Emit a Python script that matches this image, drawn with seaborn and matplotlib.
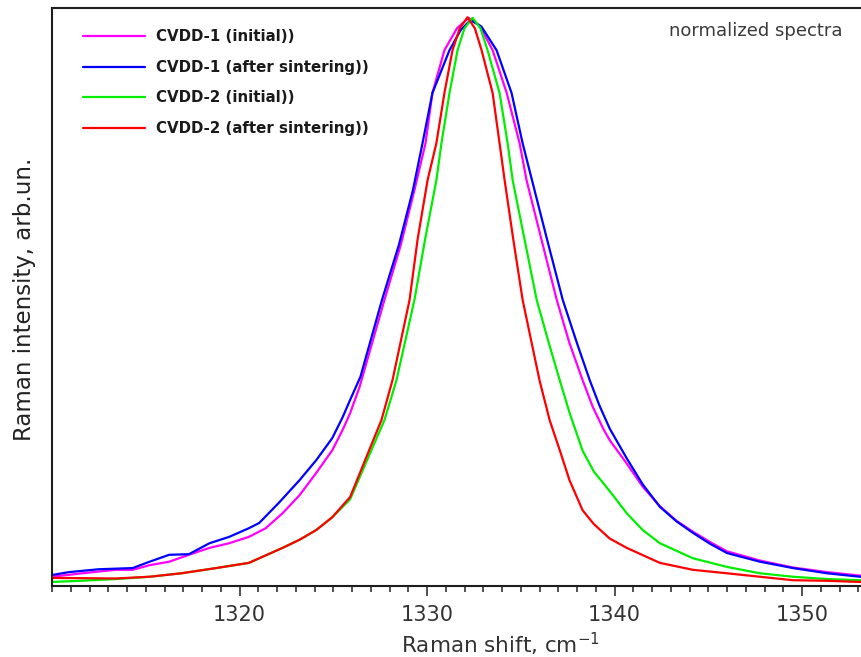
import matplotlib
matplotlib.use("Agg")
import matplotlib.pyplot as plt
from matplotlib.ticker import MultipleLocator
import numpy as np
import pandas as pd
import seaborn as sns

# ---- data ----
labels = ["CVDD-1 (initial))", "CVDD-1 (after sintering))",
          "CVDD-2 (initial))", "CVDD-2 (after sintering))"]
colors = ["#ff00ff", "#0000ff", "#00ee00", "#ff0000"]

x_cvdd1_init = [1310.0, 1311.6, 1313.4, 1314.3, 1315.2, 1316.25, 1317.3, 1318.4, 1319.45,
                1320.5, 1321.4, 1322.3, 1323.2, 1324.1, 1324.95, 1325.5, 1325.9, 1326.4,
                1327.73, 1328.6, 1329.33, 1329.92, 1330.29, 1330.93, 1331.6, 1332.22,
                1332.8, 1333.5, 1334.25, 1334.94, 1335.31, 1336.1, 1336.92, 1337.6,
                1338.3, 1338.84, 1339.4, 1339.75, 1340.65, 1341.5, 1342.42, 1343.3, 1344.18,
                1345.1, 1346.0, 1347.76, 1349.52, 1351.34, 1353.1, 1354.0]
y_cvdd1_init = [0.016, 0.022, 0.028, 0.028, 0.036, 0.042, 0.054, 0.066, 0.074,
                0.085, 0.100, 0.126, 0.157, 0.196, 0.235, 0.270, 0.299, 0.344,
                0.495, 0.590, 0.685, 0.766, 0.853, 0.927, 0.965, 0.983,
                0.970, 0.927, 0.853, 0.766, 0.702, 0.600, 0.495, 0.420,
                0.356, 0.310, 0.272, 0.252, 0.212, 0.172, 0.138, 0.113, 0.094,
                0.076, 0.060, 0.044, 0.032, 0.024, 0.018, 0.016]

x_cvdd1_sint = [1310.0, 1310.9, 1312.5, 1314.3, 1315.2, 1316.25, 1317.3, 1318.4, 1319.45,
                1320.5, 1321.05, 1322.1, 1323.2, 1324.1, 1324.95, 1325.5, 1325.9, 1326.45,
                1327.6, 1328.5, 1329.25, 1329.76, 1330.29, 1331.2, 1331.8, 1332.32,
                1332.9, 1333.71, 1334.51, 1335.1, 1335.6, 1336.4, 1337.24, 1338.0,
                1338.68, 1339.2, 1339.75, 1340.65, 1341.5, 1342.42, 1343.3, 1344.18,
                1345.1, 1346.0, 1347.76, 1349.52, 1351.34, 1353.1, 1354.0]
y_cvdd1_sint = [0.019, 0.024, 0.029, 0.031, 0.042, 0.054, 0.055, 0.074, 0.085,
                0.100, 0.109, 0.144, 0.183, 0.218, 0.256, 0.292, 0.322, 0.362,
                0.495, 0.590, 0.685, 0.766, 0.853, 0.927, 0.962, 0.979,
                0.968, 0.927, 0.853, 0.766, 0.702, 0.600, 0.495, 0.420,
                0.356, 0.312, 0.272, 0.221, 0.176, 0.137, 0.112, 0.092,
                0.073, 0.057, 0.042, 0.031, 0.022, 0.016, 0.015]

x_cvdd2_init = [1310.0, 1311.5, 1313.4, 1315.2, 1316.9, 1318.75, 1320.5, 1322.3, 1323.2,
                1324.1, 1324.95, 1325.9, 1327.73, 1328.37, 1329.33, 1329.9, 1330.5,
                1330.77, 1331.2, 1331.63, 1332.0, 1332.43, 1332.85, 1333.23, 1333.87,
                1334.3, 1334.57, 1335.2, 1335.85, 1336.5, 1337.08, 1337.6, 1338.3,
                1338.9, 1339.75, 1340.65, 1341.5, 1342.42, 1344.18, 1346.0, 1347.76,
                1349.52, 1351.34, 1353.1, 1354.0]
y_cvdd2_init = [0.007, 0.009, 0.012, 0.016, 0.022, 0.031, 0.040, 0.066, 0.080,
                0.097, 0.119, 0.150, 0.287, 0.356, 0.495, 0.600, 0.702,
                0.766, 0.853, 0.927, 0.965, 0.983, 0.965, 0.927, 0.853,
                0.766, 0.702, 0.600, 0.495, 0.420, 0.356, 0.300, 0.234,
                0.198, 0.164, 0.126, 0.097, 0.074, 0.048, 0.033, 0.022,
                0.016, 0.012, 0.010, 0.010]

x_cvdd2_sint = [1310.0, 1313.4, 1315.2, 1316.9, 1318.75, 1320.5, 1322.3, 1323.2, 1324.1,
                1324.95, 1325.9, 1327.57, 1328.16, 1329.07, 1329.5, 1330.03, 1330.5,
                1330.93, 1331.36, 1331.75, 1332.16, 1332.55, 1332.91, 1333.5, 1333.87,
                1334.14, 1334.6, 1335.1, 1336.0, 1336.54, 1337.08, 1337.6, 1338.3,
                1338.9, 1339.75, 1340.65, 1342.42, 1344.18, 1346.0, 1347.76, 1349.52,
                1351.34, 1353.1, 1354.0]
y_cvdd2_sint = [0.014, 0.013, 0.016, 0.022, 0.031, 0.040, 0.066, 0.080, 0.097,
                0.119, 0.154, 0.287, 0.356, 0.495, 0.600, 0.702, 0.766,
                0.853, 0.927, 0.965, 0.984, 0.965, 0.927, 0.853, 0.766,
                0.702, 0.600, 0.495, 0.356, 0.287, 0.235, 0.183, 0.131,
                0.107, 0.082, 0.066, 0.040, 0.028, 0.022, 0.016, 0.010,
                0.009, 0.007, 0.007]

xticks = [1320, 1330, 1340, 1350]

series = [(x_cvdd1_init, y_cvdd1_init), (x_cvdd1_sint, y_cvdd1_sint),
          (x_cvdd2_init, y_cvdd2_init), (x_cvdd2_sint, y_cvdd2_sint)]
df = pd.concat([pd.DataFrame({"shift": xs, "intensity": ys, "sample": lab})
                for (xs, ys), lab in zip(series, labels)], ignore_index=True)

# ---- style ----
sns.set_style("white")
plt.rcParams["font.family"] = ["DejaVu Sans"]

W, H = 862, 657
fig = plt.figure(figsize=(W / 100, H / 100), dpi=100)
ax_l, ax_r, ax_b, ax_t = 52, 877, 586, 8
ax = fig.add_axes([ax_l / W, (H - ax_b) / H, (ax_r - ax_l) / W, (ax_b - ax_t) / H])

sns.lineplot(data=df, x="shift", y="intensity", hue="sample", hue_order=labels,
             palette=colors, sort=False, estimator=None, linewidth=1.6, ax=ax)

ax.set_xlim(1310, 1354)
ax.set_ylim(0, 1)
ax.set_yticks([])
ax.set_xticks(xticks)
ax.set_xticklabels([str(t) for t in xticks])
ax.xaxis.set_minor_locator(MultipleLocator(1))
ax.tick_params(axis="x", which="major", direction="out", length=7.5, width=1.1,
               color="#222222", labelsize=15, labelcolor="#333333", pad=6.5, bottom=True)
ax.tick_params(axis="x", which="minor", direction="out", length=4.5, width=1.1,
               color="#222222", bottom=True)
for s in ax.spines.values():
    s.set_linewidth(1.5)
    s.set_color("#1e1e1e")

ax.set_xlabel("Raman shift, cm$^{-1}$", fontsize=15.5, color="#333333")
ax.xaxis.label.set_va("baseline")
ax.xaxis.set_label_coords((500 - ax_l) / (ax_r - ax_l), (ax_b - 653) / (ax_b - ax_t))
ax.set_ylabel("Raman intensity, arb.un.", fontsize=16.5, color="#222222")
ax.yaxis.label.set_va("center")
ax.yaxis.set_label_coords((25 - ax_l) / (ax_r - ax_l), (ax_b - 299) / (ax_b - ax_t))

handles, labs = ax.get_legend_handles_labels()
leg = ax.legend(handles, labs, loc="upper left", bbox_to_anchor=(83 / W, 1 - 29 / H),
                bbox_transform=fig.transFigure, frameon=False, borderpad=0,
                borderaxespad=0, handlelength=4.1, handletextpad=0.8,
                labelspacing=1.05, prop={"weight": "bold", "size": 10.8})
for t in leg.get_texts():
    t.set_color("#1a1a1a")
for l in leg.get_lines():
    l.set_linewidth(1.6)

fig.text(756 / W, 1 - 36.5 / H, "normalized spectra", ha="center", va="baseline",
         fontsize=13, color="#3a3a3a")

fig.savefig("out.png", dpi=100)
